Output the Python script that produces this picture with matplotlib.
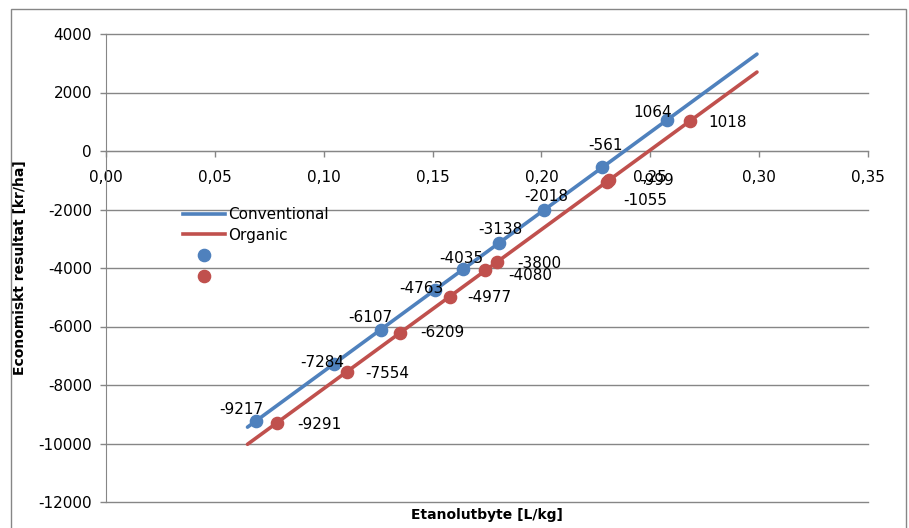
import numpy as np
import matplotlib
matplotlib.use("Agg")
import matplotlib.pyplot as plt
from matplotlib.lines import Line2D
from matplotlib.patches import Rectangle
from matplotlib.ticker import FuncFormatter

# ---- data ----
conv_x = [0.069, 0.1046, 0.1262, 0.1509, 0.1642, 0.1807, 0.2012, 0.2279, 0.2577]
conv_y = [-9217, -7284, -6107, -4763, -4035, -3138, -2018, -561, 1064]
org_x = [0.0785, 0.1105, 0.1352, 0.1579, 0.1743, 0.1795, 0.2310, 0.2300, 0.2681]
org_y = [-9291, -7554, -6209, -4977, -4080, -3800, -999, -1055, 1018]
trend_x_range = [0.065, 0.299]
series_names = ["Conventional", "Organic"]
x_ticks = [0.00, 0.05, 0.10, 0.15, 0.20, 0.25, 0.30, 0.35]
y_ticks = [4000, 2000, 0, -2000, -4000, -6000, -8000, -10000, -12000]

# ---- styles ----
BLUE = "#4F81BD"
RED = "#C0504D"
GRAY = "#868686"
# label offsets in pixels (dx right, dy down)
conv_off = [(-15, -11), (-11, -2), (-10, -12), (-13, -2), (-2, -11), (1, -13), (2, -14), (3, -22), (-14, -7)]
org_off = [(42, 2), (41, 2), (42, 0), (40, 1), (45, 5), (43, 1), (48, 0), (39, 19), (38, 1)]

plt.rcParams["font.family"] = ["DejaVu Sans"]

W, H = 909, 528
fig = plt.figure(figsize=(W / 100, H / 100), dpi=100)
ax = fig.add_axes([106 / W, 1 - 502 / H, (868 - 106) / W, (502 - 34) / H])

ax.set_xlim(x_ticks[0], x_ticks[-1])
ax.set_ylim(min(y_ticks), max(y_ticks))
ax.set_yticks(y_ticks)
ax.set_xticks(x_ticks)
ax.xaxis.set_major_formatter(FuncFormatter(lambda v, p: f"{v:.2f}".replace(".", ",")))
ax.yaxis.set_major_formatter(FuncFormatter(lambda v, p: f"{int(v)}"))

ax.grid(axis="y", color=GRAY, linewidth=1.0)
for gl in ax.get_ygridlines():
    gl.set_clip_on(False)
ax.set_axisbelow(True)
for s in ["top", "right"]:
    ax.spines[s].set_visible(False)
ax.spines["bottom"].set_position(("data", 0))
ax.spines["bottom"].set_color(GRAY)
ax.spines["left"].set_color(GRAY)
ax.tick_params(axis="both", colors=GRAY, labelcolor="black", labelsize=11, length=4, width=1)
ax.tick_params(axis="x", pad=10)
ax.tick_params(axis="y", pad=6)

def trend(xs, ys):
    k, m = np.polyfit(xs, ys, 1)
    tx = np.array(trend_x_range)
    return tx, k * tx + m

for xs, ys, c, offs in [(conv_x, conv_y, BLUE, conv_off), (org_x, org_y, RED, org_off)]:
    tx, ty = trend(xs, ys)
    ax.plot(tx, ty, color=c, lw=2.6, solid_capstyle="round", zorder=3)
    ax.plot(xs, ys, "o", color=c, ms=8.8, zorder=4, clip_on=False)
    for x, y, (dx, dy) in zip(xs, ys, offs):
        ax.annotate(f"{y}", (x, y), xytext=(dx, -dy), textcoords="offset pixels",
                    ha="center", va="center", fontsize=11, zorder=5)

ax.set_xlabel("Etanolutbyte [L/kg]", fontsize=10, fontweight="bold")
ax.xaxis.set_label_coords(0.5, -(508 - 502) / (502 - 34))
ax.set_ylabel("Economiskt resultat [kr/ha]", fontsize=10, fontweight="bold")
ax.yaxis.set_label_coords(-(106 - 27) / (868 - 106), 0.5)

handles = [Line2D([], [], color=BLUE, lw=2.6),
           Line2D([], [], color=RED, lw=2.6),
           Line2D([], [], color=BLUE, marker="o", ls="none", ms=8.8),
           Line2D([], [], color=RED, marker="o", ls="none", ms=8.8)]
fig.legend(handles, series_names + ["", ""], loc="upper left",
           bbox_to_anchor=(183 / W, 1 - 207 / H), frameon=False, fontsize=11,
           borderpad=0, borderaxespad=0, handlelength=2.75, handletextpad=0.2,
           labelspacing=0.38)

fig.patches.append(Rectangle((11 / W, -0.1), (906 - 11) / W, 1.1 - 9 / H,
                             transform=fig.transFigure, fill=False, edgecolor=GRAY, lw=1))

fig.savefig("out.png", dpi=100)
